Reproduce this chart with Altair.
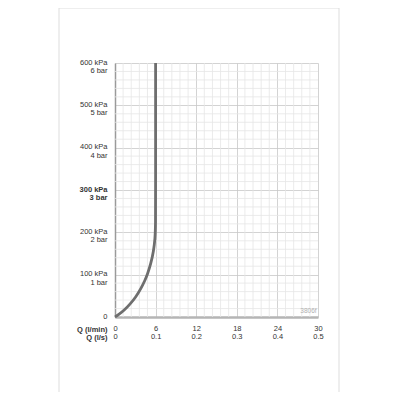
import altair as alt
import pandas as pd

# Curve: flow (l/min) vs pressure (kPa)
flow = [0, 0.5, 1.36, 2.2, 3.07, 3.8, 4.44, 4.78, 5.3, 5.7, 5.92, 6.0, 6.0, 6.0]
pressure = [0, 5, 16, 30, 47, 66, 87, 100, 126, 155, 185, 215, 300, 600]

x_ticks = [0, 6, 12, 18, 24, 30]
y_ticks = [0, 100, 200, 300, 400, 500, 600]
x_minor = [1.2, 2.4, 3.6, 4.8, 7.2, 8.4, 9.6, 10.8, 13.2, 14.4, 15.6, 16.8,
           19.2, 20.4, 21.6, 22.8, 25.2, 26.4, 27.6, 28.8]
y_minor = [20, 40, 60, 80, 120, 140, 160, 180, 220, 240, 260, 280,
           320, 340, 360, 380, 420, 440, 460, 480, 520, 540, 560, 580]
code_label = ["3806f"]

W, H = 203, 254
FONT = "Liberation Sans"

xs = alt.Scale(domain=[0, 30], nice=False, zero=False)
ys = alt.Scale(domain=[0, 600], nice=False, zero=False)

curve_df = pd.DataFrame({"q": flow, "p": pressure, "i": list(range(len(flow)))})

frame = alt.Chart(pd.DataFrame({"a": [0]})).mark_rect(
    fill=None, stroke="#dddddd", strokeWidth=1
).encode(
    x=alt.value(-56), x2=alt.value(224), y=alt.value(-55), y2=alt.value(332)
)

minor_x = alt.Chart(pd.DataFrame({"q": x_minor})).mark_rule(
    color="#e6e6e6", strokeWidth=0.8
).encode(x=alt.X("q:Q", scale=xs))

minor_y = alt.Chart(pd.DataFrame({"p": y_minor})).mark_rule(
    color="#e6e6e6", strokeWidth=0.8
).encode(y=alt.Y("p:Q", scale=ys))

curve = alt.Chart(curve_df).mark_line(
    color="#6e6e6e", strokeWidth=2.8, interpolate="basis"
).encode(
    x=alt.X(
        "q:Q", scale=xs,
        axis=alt.Axis(
            values=x_ticks, grid=True, gridColor="#c8c8c8", gridWidth=0.8,
            ticks=False, domain=True, domainColor="#b5b5b5", domainWidth=2.5,
            labelExpr="[datum.label, format(datum.value/60, '.1~f')]",
            labelFont=FONT, labelFontSize=7.5, labelColor="#333333",
            labelLineHeight=8.5, labelPadding=7, labelFlush=False,
            labelOverlap=False,
            title=["Q (l/min)", "Q (l/s)"], titleFont=FONT, titleFontSize=7.5,
            titleFontWeight="bold", titleColor="#333333", titleLineHeight=8.5,
            titleAnchor="start", titleAlign="right", titleBaseline="top",
            titleX=-8, titleY=8,
        ),
    ),
    y=alt.Y(
        "p:Q", scale=ys,
        axis=alt.Axis(
            values=y_ticks, grid=True, gridColor="#c8c8c8", gridWidth=0.8,
            ticks=False, domain=True, domainColor="#9a9a9a", domainWidth=1.5,
            labelExpr="datum.value == 0 ? '0' : [datum.value + ' kPa', (datum.value/100) + ' bar']",
            labelFont=FONT, labelFontSize=7.5, labelColor="#333333",
            labelLineHeight=8.5, labelPadding=8, labelBaseline="top",
            labelOffset=-5, labelAlign="right", labelFlush=False,
            labelOverlap=False,
            labelFontWeight=alt.condition("datum.value == 300", alt.value("bold"), alt.value("normal")),
            title=None,
        ),
    ),
    order=alt.Order("i:Q"),
)

code = alt.Chart(pd.DataFrame({"t": code_label, "q": [29.8], "p": [8]})).mark_text(
    font=FONT, fontSize=6.5, color="#b0b0b0", align="right", baseline="bottom"
).encode(x=alt.X("q:Q", scale=xs), y=alt.Y("p:Q", scale=ys), text="t:N")

chart = alt.layer(frame, minor_x, minor_y, curve, code).properties(
    width=W, height=H,
    autosize=alt.AutoSizeParams(type="none"),
    padding={"left": 107, "top": 55, "right": 74, "bottom": 75},
    background="white",
).configure_view(stroke=None)

chart.save("out.html", embed_options={"renderer": "svg", "actions": False})
